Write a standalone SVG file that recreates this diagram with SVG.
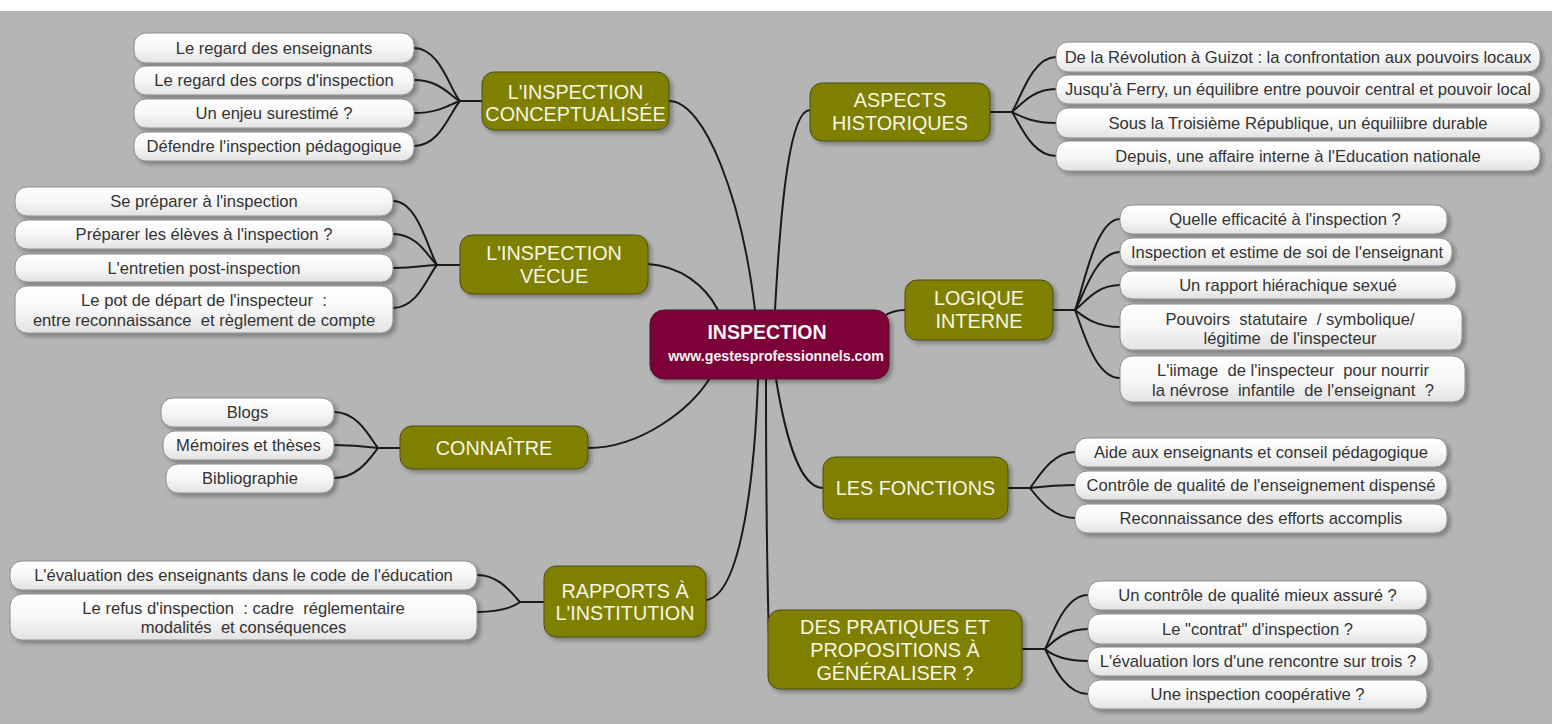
<svg xmlns="http://www.w3.org/2000/svg" width="1552" height="724" viewBox="0 0 1552 724" xml:space="preserve">
<defs>
<linearGradient id="leafGrad" x1="0" y1="0" x2="0" y2="1">
<stop offset="0" stop-color="#ffffff"/>
<stop offset="0.5" stop-color="#f7f7f7"/>
<stop offset="1" stop-color="#e2e2e2"/>
</linearGradient>
<filter id="shadow" x="-10%" y="-20%" width="120%" height="150%">
<feDropShadow dx="3" dy="3" stdDeviation="2" flood-color="#000" flood-opacity="0.3"/>
</filter>
<style>
text{white-space:pre}
.leaf rect{fill:url(#leafGrad);stroke:#8c8c8c;stroke-width:1;filter:url(#shadow)}
.leaf text{font-family:"Liberation Sans",Arial,sans-serif;font-size:16.6px;fill:#333;text-anchor:middle}
.main rect{fill:#808000;stroke:#4d4d1a;stroke-width:1;filter:url(#shadow)}
.main text{font-family:"Liberation Sans",Arial,sans-serif;font-size:19.8px;fill:#f6f6e6;text-anchor:middle}
.center rect{fill:#7d0039;stroke:#4a1a2a;stroke-width:1;filter:url(#shadow)}
.center text{font-family:"Liberation Sans",Arial,sans-serif;font-weight:bold;fill:#f4f4f4;text-anchor:middle}
#connectors path{fill:none;stroke:#1a1a1a;stroke-width:2}
</style>
</defs>
<rect x="0" y="0" width="1552" height="724" fill="#ffffff"/>
<rect x="0" y="11" width="1552" height="713" fill="#b5b5b5"/>

<g id="connectors">
<path d="M669 101 C705 101 742 200 755 310"/>
<path d="M775 310 C781 200 790 110 810 110"/>
<path d="M648 264 C680 266 705 285 718 310"/>
<path d="M884 316 C892 311 898 310 905 310"/>
<path d="M588 448 C640 448 690 410 710 378"/>
<path d="M706 600 C742 596 755 470 758 379"/>
<path d="M766 379 C766 480 767 570 769 640"/>
<path d="M776 379 C786 440 800 488 823 488"/>
<path d="M460 101 L482 101"/>
<path d="M414 48 C440 48 450 90 460 101"/>
<path d="M414 80 C440 80 450 96 460 101"/>
<path d="M414 113 C440 113 450 104 460 101"/>
<path d="M414 146 C440 146 450 112 460 101"/>
<path d="M437 265 L460 265"/>
<path d="M393 201 C418 201 428 250 437 265"/>
<path d="M393 234 C418 234 428 257 437 265"/>
<path d="M393 268 C415 268 428 265 437 265"/>
<path d="M393 308 C418 308 428 275 437 265"/>
<path d="M378 448 L400 448"/>
<path d="M334 412 C358 412 370 438 378 448"/>
<path d="M334 445 C356 445 370 447 378 448"/>
<path d="M334 478 C358 478 370 458 378 448"/>
<path d="M520 602 L544 602"/>
<path d="M477 575 C500 575 512 594 520 602"/>
<path d="M477 612 C500 612 512 608 520 602"/>
<path d="M990 112 L1012 112"/>
<path d="M1056 57 C1032 57 1020 100 1012 112"/>
<path d="M1056 89 C1032 89 1020 106 1012 112"/>
<path d="M1056 123 C1032 123 1020 116 1012 112"/>
<path d="M1056 156 C1032 156 1020 124 1012 112"/>
<path d="M1053 310 L1075 310"/>
<path d="M1120 219 C1095 219 1083 290 1075 310"/>
<path d="M1120 252 C1095 252 1083 298 1075 310"/>
<path d="M1120 285 C1095 285 1083 305 1075 310"/>
<path d="M1120 327 C1095 327 1083 316 1075 310"/>
<path d="M1120 378 C1095 378 1083 330 1075 310"/>
<path d="M1008 488 L1030 488"/>
<path d="M1075 452 C1052 452 1038 478 1030 488"/>
<path d="M1075 485 C1052 485 1038 487 1030 488"/>
<path d="M1075 518 C1052 518 1038 498 1030 488"/>
<path d="M1022 649 L1045 649"/>
<path d="M1088 595 C1064 595 1052 636 1045 649"/>
<path d="M1088 629 C1064 629 1052 643 1045 649"/>
<path d="M1088 661 C1064 661 1052 655 1045 649"/>
<path d="M1088 694 C1064 694 1052 662 1045 649"/>
</g>

<g id="center" class="center">
<rect x="650" y="310" width="239" height="69" rx="14"/>
<text x="767" y="339" font-size="19.5">INSPECTION</text>
<text x="776" y="361" font-size="14.2">www.gestesprofessionnels.com</text>
</g>

<g id="main-conceptualisee" class="main">
<rect x="482" y="72" width="187" height="58" rx="12"/>
<text x="575.5" y="99">L'INSPECTION</text>
<text x="575.5" y="121">CONCEPTUALISÉE</text>
</g>
<g id="main-vecue" class="main">
<rect x="460" y="235" width="188" height="59" rx="12"/>
<text x="554" y="260">L'INSPECTION</text>
<text x="554" y="283">VÉCUE</text>
</g>
<g id="main-connaitre" class="main">
<rect x="400" y="426" width="188" height="43" rx="12"/>
<text x="494" y="455">CONNAÎTRE</text>
</g>
<g id="main-rapports" class="main">
<rect x="544" y="566" width="162" height="71" rx="12"/>
<text x="625" y="598">RAPPORTS À</text>
<text x="625" y="620">L'INSTITUTION</text>
</g>
<g id="main-historiques" class="main">
<rect x="810" y="83" width="180" height="58" rx="12"/>
<text x="900" y="107">ASPECTS</text>
<text x="900" y="130">HISTORIQUES</text>
</g>
<g id="main-logique" class="main">
<rect x="905" y="280" width="148" height="60" rx="12"/>
<text x="979" y="305">LOGIQUE</text>
<text x="979" y="328">INTERNE</text>
</g>
<g id="main-fonctions" class="main">
<rect x="823" y="457" width="185" height="62" rx="12"/>
<text x="915.5" y="495">LES FONCTIONS</text>
</g>
<g id="main-pratiques" class="main">
<rect x="768" y="610" width="254" height="79" rx="12"/>
<text x="895" y="634">DES PRATIQUES ET</text>
<text x="895" y="657">PROPOSITIONS À</text>
<text x="895" y="680">GÉNÉRALISER ?</text>
</g>

<g id="leaf-a1" class="leaf"><rect x="134" y="33" width="280" height="30" rx="12"/><text x="274" y="54">Le regard des enseignants</text></g>
<g id="leaf-a2" class="leaf"><rect x="134" y="66" width="280" height="29" rx="12"/><text x="274" y="86">Le regard des corps d'inspection</text></g>
<g id="leaf-a3" class="leaf"><rect x="134" y="99" width="280" height="29" rx="12"/><text x="274" y="119">Un enjeu surestimé ?</text></g>
<g id="leaf-a4" class="leaf"><rect x="134" y="132" width="280" height="29" rx="12"/><text x="274" y="152">Défendre l'inspection pédagogique</text></g>

<g id="leaf-b1" class="leaf"><rect x="15" y="187" width="378" height="29" rx="12"/><text x="204" y="207">Se préparer à l'inspection</text></g>
<g id="leaf-b2" class="leaf"><rect x="15" y="220" width="378" height="29" rx="12"/><text x="204" y="240">Préparer les élèves à l'inspection ?</text></g>
<g id="leaf-b3" class="leaf"><rect x="15" y="254" width="378" height="28" rx="12"/><text x="204" y="273.5">L'entretien post-inspection</text></g>
<g id="leaf-b4" class="leaf"><rect x="15" y="286" width="378" height="47" rx="12"/><text x="204" y="305.5">Le pot de départ de l'inspecteur  :</text><text x="204" y="325.5">entre reconnaissance  et règlement de compte</text></g>

<g id="leaf-c1" class="leaf"><rect x="161" y="398" width="173" height="29" rx="12"/><text x="247.5" y="418">Blogs</text></g>
<g id="leaf-c2" class="leaf"><rect x="163" y="431" width="171" height="29" rx="12"/><text x="248.5" y="451">Mémoires et thèses</text></g>
<g id="leaf-c3" class="leaf"><rect x="166" y="464" width="168" height="29" rx="12"/><text x="250" y="484">Bibliographie</text></g>

<g id="leaf-d1" class="leaf"><rect x="10" y="561" width="467" height="29" rx="12"/><text x="243.5" y="581">L'évaluation des enseignants dans le code de l'éducation</text></g>
<g id="leaf-d2" class="leaf"><rect x="10" y="594" width="467" height="46" rx="12"/><text x="243.5" y="613.5">Le refus d'inspection  : cadre  réglementaire</text><text x="243.5" y="632.5">modalités  et conséquences</text></g>

<g id="leaf-e1" class="leaf"><rect x="1056" y="42" width="484" height="30" rx="12"/><text x="1298" y="62.5">De la Révolution à Guizot : la confrontation aux pouvoirs locaux</text></g>
<g id="leaf-e2" class="leaf"><rect x="1056" y="75" width="484" height="29" rx="12"/><text x="1298" y="95">Jusqu'à Ferry, un équilibre entre pouvoir central et pouvoir local</text></g>
<g id="leaf-e3" class="leaf"><rect x="1056" y="108" width="484" height="30" rx="12"/><text x="1298" y="128.5">Sous la Troisième République, un équiliibre durable</text></g>
<g id="leaf-e4" class="leaf"><rect x="1056" y="141" width="484" height="30" rx="12"/><text x="1298" y="161.5">Depuis, une affaire interne à l'Education nationale</text></g>

<g id="leaf-f1" class="leaf"><rect x="1120" y="205" width="327" height="29" rx="12"/><text x="1285" y="225">Quelle efficacité à l'inspection ?</text></g>
<g id="leaf-f2" class="leaf"><rect x="1120" y="238" width="332" height="28" rx="12"/><text x="1287" y="257.5">Inspection et estime de soi de l'enseignant</text></g>
<g id="leaf-f3" class="leaf"><rect x="1120" y="271" width="336" height="28" rx="12"/><text x="1288" y="290.5">Un rapport hiérachique sexué</text></g>
<g id="leaf-f4" class="leaf"><rect x="1120" y="304" width="342" height="46" rx="12"/><text x="1290" y="324.5">Pouvoirs  statutaire  / symbolique/</text><text x="1290" y="343.5">légitime  de l'inspecteur</text></g>
<g id="leaf-f5" class="leaf"><rect x="1120" y="356" width="345" height="46" rx="12"/><text x="1293" y="375.5">L'iimage  de l'inspecteur  pour nourrir</text><text x="1293" y="395.5">la névrose  infantile  de l'enseignant  ?</text></g>

<g id="leaf-g1" class="leaf"><rect x="1075" y="438" width="372" height="29" rx="12"/><text x="1261" y="458">Aide aux enseignants et conseil pédagogique</text></g>
<g id="leaf-g2" class="leaf"><rect x="1075" y="471" width="372" height="29" rx="12"/><text x="1261" y="491">Contrôle de qualité de l'enseignement dispensé</text></g>
<g id="leaf-g3" class="leaf"><rect x="1075" y="504" width="372" height="29" rx="12"/><text x="1261" y="524">Reconnaissance des efforts accomplis</text></g>

<g id="leaf-h1" class="leaf"><rect x="1088" y="581" width="339" height="29" rx="12"/><text x="1257.5" y="601">Un contrôle de qualité mieux assuré ?</text></g>
<g id="leaf-h2" class="leaf"><rect x="1088" y="614" width="339" height="30" rx="12"/><text x="1257.5" y="634.5">Le "contrat" d'inspection ?</text></g>
<g id="leaf-h3" class="leaf"><rect x="1088" y="647" width="340" height="29" rx="12"/><text x="1258" y="667">L'évaluation lors d'une rencontre sur trois ?</text></g>
<g id="leaf-h4" class="leaf"><rect x="1088" y="680" width="339" height="29" rx="12"/><text x="1257.5" y="700">Une inspection coopérative ?</text></g>
</svg>
